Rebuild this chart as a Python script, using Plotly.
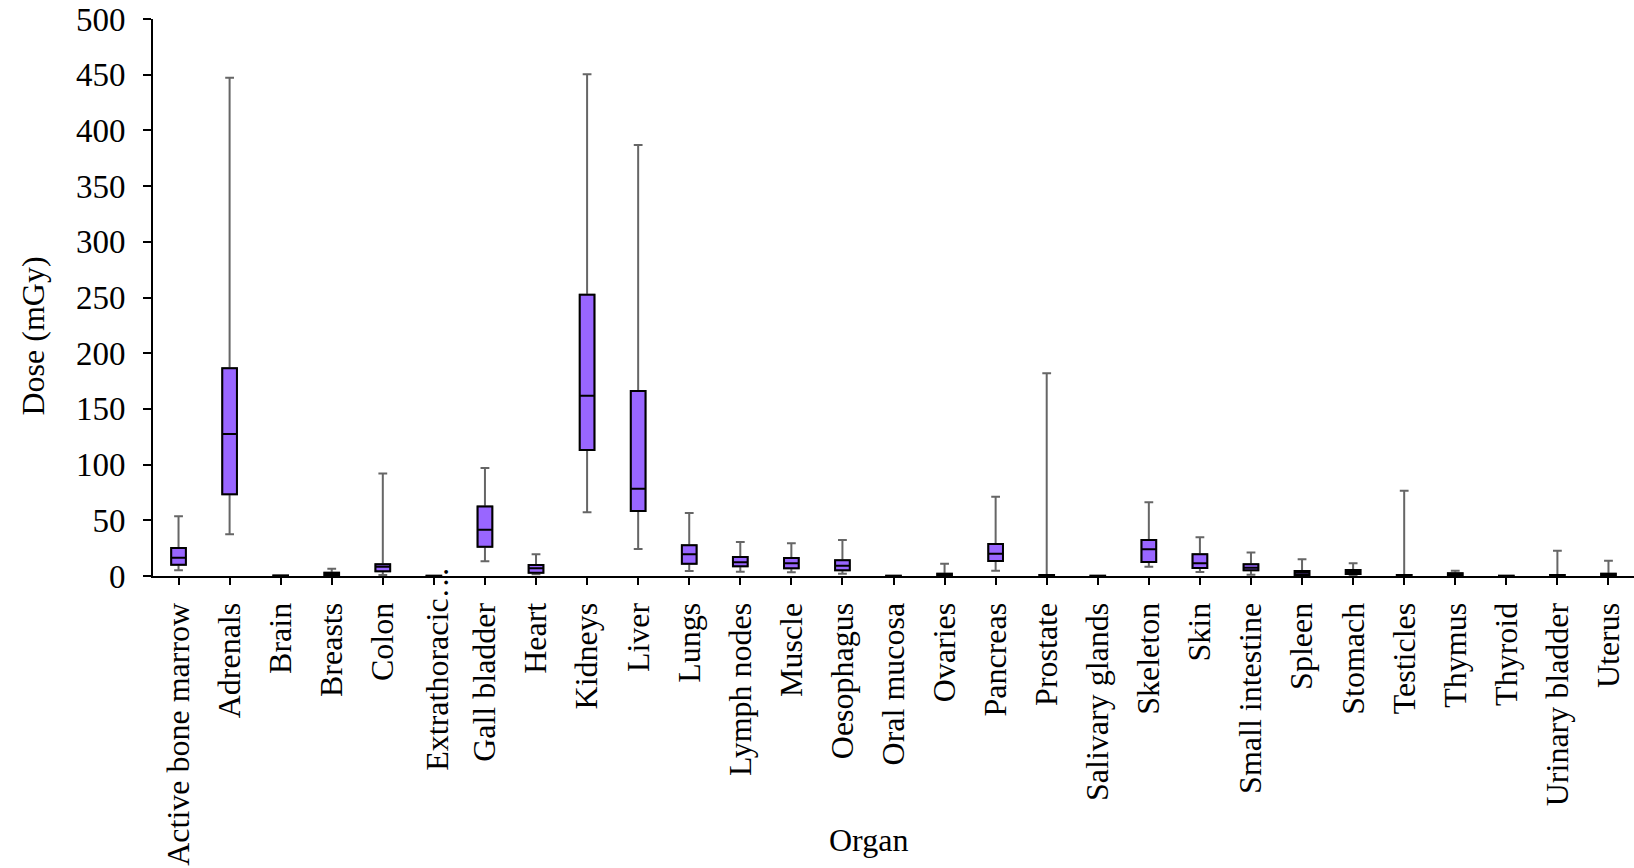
import plotly.graph_objects as go

# Organ dose distributions (mGy): whisker ends, quartiles and medians
organs = [
    "Active bone marrow", "Adrenals", "Brain", "Breasts", "Colon", "Extrathoracic…",
    "Gall bladder", "Heart", "Kidneys", "Liver", "Lungs", "Lymph nodes", "Muscle",
    "Oesophagus", "Oral mucosa", "Ovaries", "Pancreas", "Prostate", "Salivary glands",
    "Skeleton", "Skin", "Small intestine", "Spleen", "Stomach", "Testicles", "Thymus",
    "Thyroid", "Urinary bladder", "Uterus",
]
upper = [53.6, 447.3, 0.5, 6.6, 92.0, 0.3, 97.0, 19.5, 450.3, 386.9, 56.6, 30.5, 29.3,
         32.3, 0.3, 11.1, 71.2, 182.0, 0.3, 66.2, 34.7, 21.2, 15.0, 11.4, 76.6, 4.8,
         0.3, 22.7, 13.7]
q3 = [25.1, 186.4, 0.4, 3.0, 10.5, 0.2, 62.5, 9.9, 252.5, 166.0, 27.5, 17.1, 16.2,
      14.1, 0.2, 2.0, 28.7, 1.0, 0.2, 32.3, 19.5, 10.5, 4.5, 5.4, 1.0, 2.5,
      0.2, 1.0, 2.0]
median = [16.4, 127.5, 0.2, 1.8, 8.4, 0.1, 41.6, 6.9, 161.9, 78.4, 19.5, 12.3, 11.4,
          9.3, 0.1, 1.2, 20.0, 0.5, 0.1, 24.0, 11.4, 7.5, 3.0, 3.5, 0.5, 1.5,
          0.1, 0.5, 1.2]
q1 = [10.2, 73.3, 0.1, 0.6, 4.2, 0.05, 26.3, 3.0, 113.1, 58.3, 11.1, 8.7, 6.9,
      5.1, 0.05, 0.5, 13.5, 0.2, 0.05, 12.6, 7.2, 5.1, 0.9, 1.8, 0.2, 0.5,
      0.05, 0.2, 0.5]
lower = [5.1, 37.4, 0.0, 0.2, 1.0, 0.0, 13.2, 1.5, 57.2, 24.2, 4.5, 3.9, 3.3,
         2.1, 0.0, 0.2, 4.8, 0.0, 0.0, 8.4, 3.6, 1.2, 0.0, 0.5, 0.0, 0.2,
         0.0, 0.0, 0.2]

y_ticks = [0, 50, 100, 150, 200, 250, 300, 350, 400, 450, 500]

# The long "Extrathoracic…" label is drawn separately so it can sit higher
SHIFTED_LABEL = "Extrathoracic…"
tick_text = ["" if o == SHIFTED_LABEL else o for o in organs]

FILL = "#9966ff"
FONT = "Liberation Serif, Times New Roman, serif"

fig = go.Figure()

# Grey whiskers with caps
fig.add_trace(go.Box(
    x=organs, q1=q1, median=median, q3=q3,
    lowerfence=lower, upperfence=upper,
    fillcolor=FILL, line=dict(color="#666666", width=2),
    whiskerwidth=0.6, boxpoints=False, hoverinfo="skip", showlegend=False,
))
# Black-outlined boxes drawn over the whiskers
fig.add_trace(go.Box(
    x=organs, q1=q1, median=median, q3=q3,
    lowerfence=q1, upperfence=q3,
    fillcolor=FILL, line=dict(color="black", width=2),
    whiskerwidth=0.6, boxpoints=False, showlegend=False,
))

fig.update_layout(
    width=1634, height=868,
    margin=dict(l=153, r=0, t=19, b=292),
    paper_bgcolor="white", plot_bgcolor="white",
    boxmode="overlay", boxgap=0.59,
    font=dict(family=FONT, size=32, color="black"),
    showlegend=False,
    annotations=[
        dict(text="Organ", xref="paper", yref="paper", x=0.483, y=-0.474,
             showarrow=False, xanchor="center", yanchor="middle",
             font=dict(family=FONT, size=32, color="black")),
        dict(text="Dose (mGy)", xref="paper", yref="paper", x=-0.081, y=0.43,
             textangle=-90, showarrow=False, xanchor="center", yanchor="middle",
             font=dict(family=FONT, size=32, color="black")),
        dict(text=SHIFTED_LABEL, xref="x", yref="paper", x=SHIFTED_LABEL, y=0.02,
             textangle=-90, showarrow=False, xanchor="center", yanchor="top",
             xshift=3, font=dict(family=FONT, size=32, color="black")),
    ],
)
fig.update_xaxes(
    type="category", categoryorder="array", categoryarray=organs,
    tickvals=organs, ticktext=tick_text,
    range=[-0.5, 28.5], showline=True, linecolor="black", linewidth=2,
    ticks="outside", ticklen=7, tickwidth=2, tickcolor="black",
    tickangle=-90, showgrid=False, zeroline=False, ticklabelstandoff=5,
)
fig.update_yaxes(
    range=[0, 500], tickvals=y_ticks, showline=True, linecolor="black", linewidth=2,
    ticks="outside", ticklen=8, tickwidth=2, tickcolor="black",
    tickfont=dict(size=33), showgrid=False, zeroline=False, ticklabelstandoff=11,
)

fig.write_html("out.html")
